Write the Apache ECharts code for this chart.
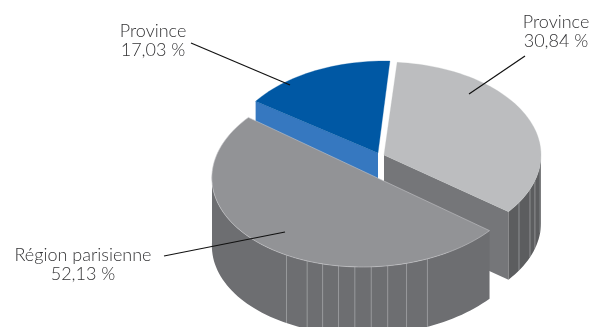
<!DOCTYPE html>
<html>
<head>
<meta charset="utf-8">
<style>html,body{margin:0;padding:0;background:#fff}#chart{width:592px;height:327px}</style>
<script src="https://cdn.jsdelivr.net/npm/echarts@6/dist/echarts.min.js"></script>
</head>
<body>
<div id="chart"></div>
<script>
// Slice names and shares, drawn back to front
const names = ['Province', 'Province', 'Région parisienne'];
const shares = [17.03, 30.84, 52.13];

// Pie solid: top ellipse radii, wall height, and a perspective term on the angles
const RX = 157, RY = 93, DEPTH = 68;
const START = 13.15, WARP = 8.36, WARP_PHASE = 100.5;

// Per-slice layout: exploded centre, tip of the wedge, small turn and lean, colours, facet lines
const layout = [
  { c: [385, 154], tip: [378, 153], turn: -3, lean: 0, top: '#0058a4', face: '#3678c0', wall: '#3678c0', facets: [],
    text: [153, 41], lead: [[191, 43], [290, 85]] },
  { c: [384, 155], tip: [384, 155], turn: 0, lean: 0, top: '#bcbdbf', face: '#757679', wall: '#5c5d5f', facets: [96, 106, 111.6, 120.7],
    text: [556, 32], lead: [[525, 56], [469, 94]] },
  { c: [369, 174], tip: [369, 174], turn: 0, lean: -0.07, top: '#929396', face: '#6d6e71', wall: '#6d6e71',
    facets: [155.8, 163.8, 170.8, 176.8, 182.8, 188.8, 194.8, 200.8, 209.3],
    text: [83, 265], lead: [[164, 256], [285, 232]] }
];

const total = shares.reduce((a, b) => a + b, 0);
const rad = d => d * Math.PI / 180;
// Foreshortened screen angle for a true pie angle (degrees clockwise from the top)
const warp = t => t + WARP * Math.sin(rad(t - WARP_PHASE));

function onRim(L, a, dy) {
  const up = -RY * Math.cos(rad(a));
  return [L.c[0] + RX * Math.sin(rad(a)) + L.lean * up, L.c[1] + up + (dy || 0)];
}

function arc(L, from, to, dy) {
  const pts = [], n = Math.max(2, Math.ceil(Math.abs(to - from) / 2));
  for (let i = 0; i <= n; i++) pts.push(onRim(L, from + (to - from) * i / n, dy));
  return pts;
}

// True start angle of a slice: the light one first, then the large one, then the blue one
function startAngle(i) {
  const seq = [1, 2, 0];
  let t = START;
  for (const k of seq) {
    if (k === i) return t;
    t += shares[k] / total * 360;
  }
}

function renderSlice(params, api) {
  const i = params.dataIndex, L = layout[i], value = api.value(1);
  const startTrue = startAngle(i);
  const a0 = warp(startTrue) + L.turn;
  const a1 = warp(startTrue + value / total * 360) + L.turn;
  const children = [];

  // Radial cut face behind the top
  const faceEdge = i === 0 ? a0 : (i === 1 ? a1 : null);
  if (faceEdge !== null) {
    const rim = onRim(L, faceEdge);
    children.push({ type: 'polygon',
      shape: { points: [L.tip, rim, [rim[0], rim[1] + DEPTH], [L.tip[0], L.tip[1] + DEPTH]] },
      style: { fill: L.face } });
  }
  // Outer wall: only the lower half of the rim faces the viewer
  const w0 = Math.max(a0, 90), w1 = Math.min(a1, 270);
  if (w1 > w0 && i !== 0) {
    children.push({ type: 'polygon', shape: { points: arc(L, w0, w1, 0).concat(arc(L, w1, w0, DEPTH)) },
      style: { fill: L.wall } });
    L.facets.forEach(f => {
      const p = onRim(L, f);
      children.push({ type: 'line', shape: { x1: p[0], y1: p[1], x2: p[0], y2: p[1] + DEPTH },
        style: { stroke: 'rgba(205,206,208,0.65)', lineWidth: 0.7 } });
    });
  }
  // Top of the slice
  children.push({ type: 'polygon', shape: { points: [L.tip].concat(arc(L, a0, a1)) },
    style: { fill: L.top, stroke: i === 2 ? '#c4c5c7' : L.top, lineWidth: i === 2 ? 0.6 : 0.3 } });
  // Leader line
  children.push({ type: 'line', shape: { x1: L.lead[0][0], y1: L.lead[0][1], x2: L.lead[1][0], y2: L.lead[1][1] },
    style: { stroke: '#111', lineWidth: 1.2 } });
  // Two-line label: name above the share
  children.push({ type: 'text', x: L.text[0], y: L.text[1],
    style: { text: names[i] + '\n' + String(value).replace('.', ',') + ' %',
      fill: '#333335', font: '300 18px Lato', lineHeight: 19, align: 'center', verticalAlign: 'middle' } });
  return { type: 'group', children };
}

const chart = echarts.init(document.getElementById('chart'), null, { renderer: 'canvas' });
chart.setOption({
  animation: false,
  series: [{
    type: 'custom',
    coordinateSystem: 'none',
    renderItem: renderSlice,
    data: shares.map((v, i) => [i, v])
  }]
});
</script>
</body>
</html>
